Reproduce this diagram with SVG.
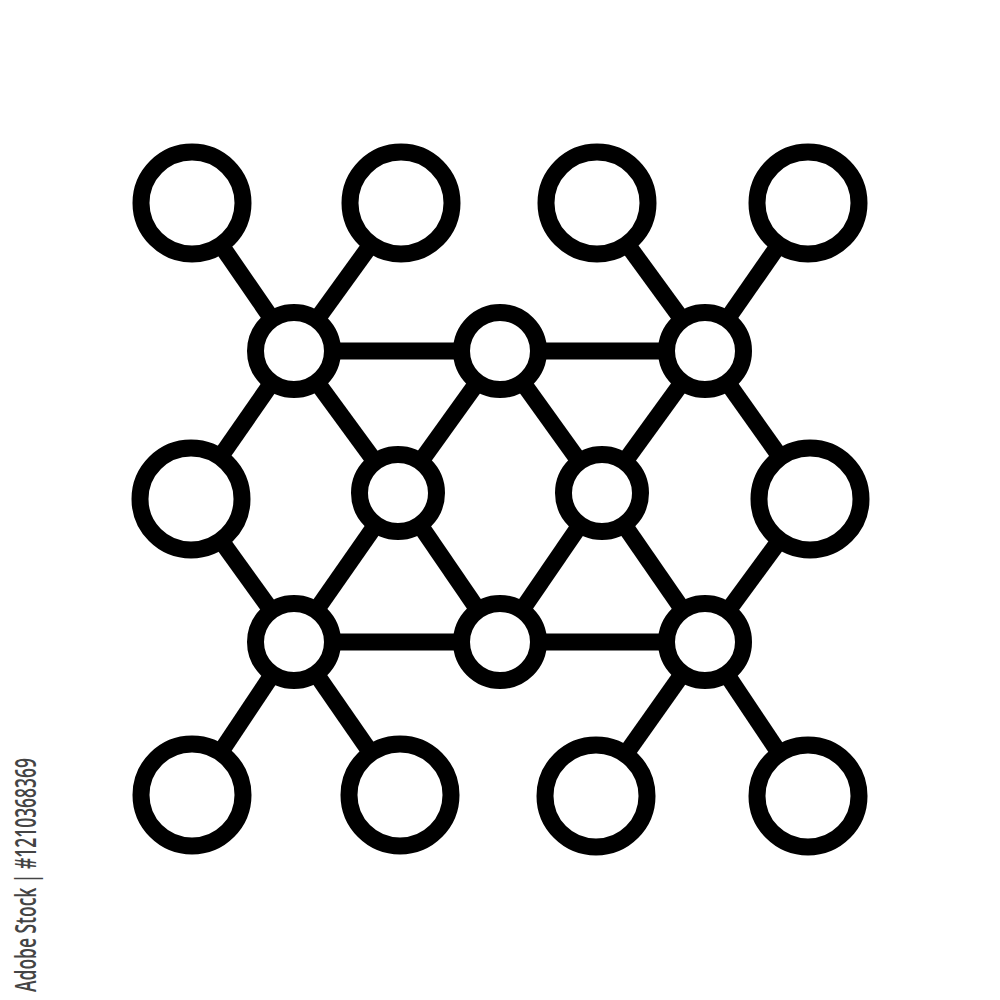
<svg xmlns="http://www.w3.org/2000/svg" width="1000" height="1000" viewBox="0 0 1000 1000">
<style>
.edge{stroke:#000;stroke-width:17;stroke-linecap:butt;fill:none}
.big{fill:#fff;stroke:#000;stroke-width:17}
.small{fill:#fff;stroke:#000;stroke-width:17}
.wm{font-family:"Open Sans","Liberation Sans",sans-serif;font-size:28px;font-weight:600;fill:#444}
</style>
<rect width="1000" height="1000" fill="#fff"/>
<g id="connectors">
<line class="edge" x1="192" y1="203" x2="294" y2="351"/>
<line class="edge" x1="401" y1="203" x2="294" y2="351"/>
<line class="edge" x1="597" y1="203" x2="705" y2="351"/>
<line class="edge" x1="808" y1="203" x2="705" y2="351"/>
<line class="edge" x1="294" y1="351" x2="705" y2="351"/>
<line class="edge" x1="294" y1="351" x2="191" y2="499"/>
<line class="edge" x1="294" y1="351" x2="398" y2="493"/>
<line class="edge" x1="500" y1="351" x2="398" y2="493"/>
<line class="edge" x1="500" y1="351" x2="602" y2="493"/>
<line class="edge" x1="705" y1="351" x2="602" y2="493"/>
<line class="edge" x1="705" y1="351" x2="810" y2="499"/>
<line class="edge" x1="191" y1="499" x2="294" y2="642"/>
<line class="edge" x1="398" y1="493" x2="294" y2="642"/>
<line class="edge" x1="398" y1="493" x2="500" y2="642"/>
<line class="edge" x1="602" y1="493" x2="500" y2="642"/>
<line class="edge" x1="602" y1="493" x2="705" y2="642"/>
<line class="edge" x1="810" y1="499" x2="705" y2="642"/>
<line class="edge" x1="294" y1="642" x2="705" y2="642"/>
<line class="edge" x1="294" y1="642" x2="192" y2="795"/>
<line class="edge" x1="294" y1="642" x2="400" y2="795"/>
<line class="edge" x1="705" y1="642" x2="596" y2="796"/>
<line class="edge" x1="705" y1="642" x2="808" y2="796"/>
</g>
<g id="top1"><circle class="big" cx="192" cy="203" r="51"/></g>
<g id="top2"><circle class="big" cx="401" cy="203" r="51"/></g>
<g id="top3"><circle class="big" cx="597" cy="203" r="51"/></g>
<g id="top4"><circle class="big" cx="808" cy="203" r="51"/></g>
<g id="hubTL"><circle class="small" cx="294" cy="351" r="38.5"/></g>
<g id="hubTM"><circle class="small" cx="500" cy="351" r="38.5"/></g>
<g id="hubTR"><circle class="small" cx="705" cy="351" r="38.5"/></g>
<g id="midL"><circle class="big" cx="191" cy="499" r="51"/></g>
<g id="midR"><circle class="big" cx="810" cy="499" r="51"/></g>
<g id="hubML"><circle class="small" cx="398" cy="493" r="38.5"/></g>
<g id="hubMR"><circle class="small" cx="602" cy="493" r="38.5"/></g>
<g id="hubBL"><circle class="small" cx="294" cy="642" r="38.5"/></g>
<g id="hubBM"><circle class="small" cx="500" cy="642" r="38.5"/></g>
<g id="hubBR"><circle class="small" cx="705" cy="642" r="38.5"/></g>
<g id="bot1"><circle class="big" cx="192" cy="795" r="51"/></g>
<g id="bot2"><circle class="big" cx="400" cy="795" r="51"/></g>
<g id="bot3"><circle class="big" cx="596" cy="796" r="51"/></g>
<g id="bot4"><circle class="big" cx="808" cy="796" r="51"/></g>
<text class="wm" transform="translate(36,992) rotate(-90)" textLength="234" lengthAdjust="spacingAndGlyphs">Adobe Stock | #1210368369</text>
</svg>
